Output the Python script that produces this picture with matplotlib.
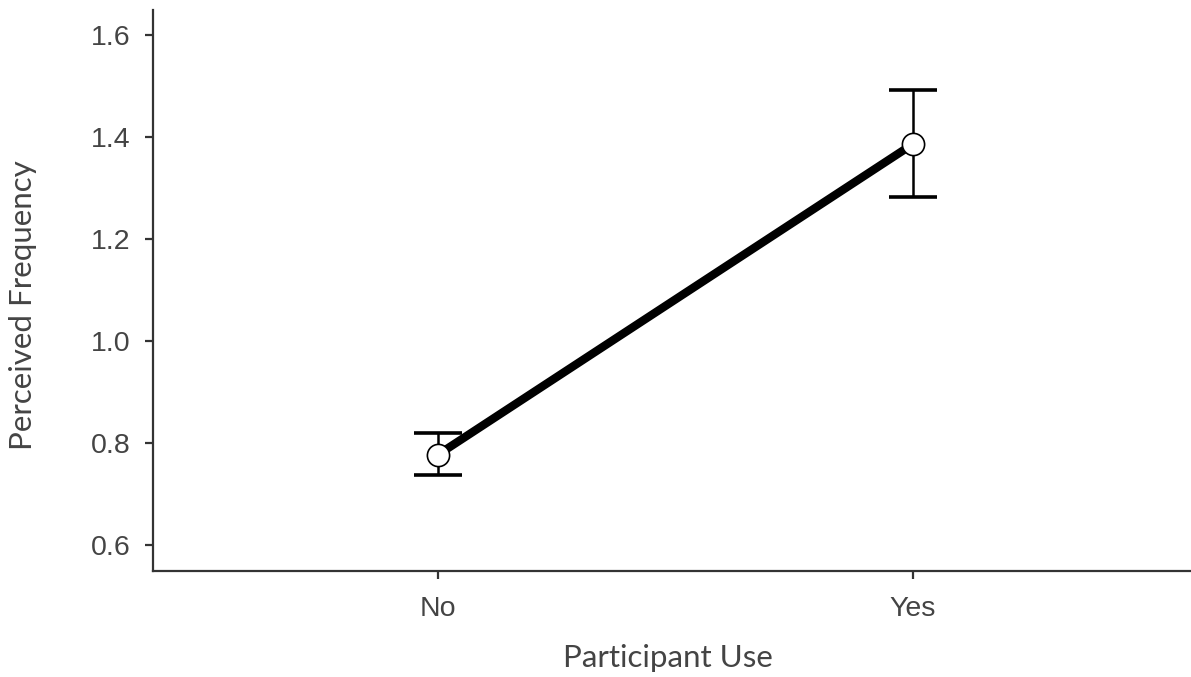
import numpy as np
import matplotlib
matplotlib.use('Agg')
import matplotlib.pyplot as plt

categories = ['No', 'Yes']
means = [0.777, 1.386]
upper = [0.820, 1.492]
lower = [0.737, 1.282]
y_ticks = [0.6, 0.8, 1.0, 1.2, 1.4, 1.6]


def main():
    fig = plt.figure(figsize=(11.91, 6.77), dpi=100)
    ax = fig.add_axes([0.1285, 0.1566, 0.8715, 0.829])

    x = np.arange(len(categories))
    m = np.array(means)
    yerr = [m - np.array(lower), np.array(upper) - m]

    ax.plot(x, m, color='black', lw=6, solid_capstyle='butt', zorder=2)
    ax.errorbar(x, m, yerr=yerr, fmt='none', ecolor='black', elinewidth=1.8,
                capsize=17, capthick=2.6, zorder=3)
    ax.plot(x, m, 'o', ms=16, mfc='white', mec='black', mew=1.2, zorder=4)

    ax.set_xlim(-0.6, 1.585)
    ax.set_ylim(0.549, 1.649)
    ax.set_xticks(x)
    ax.set_xticklabels(categories)
    ax.set_yticks(y_ticks)
    ax.set_yticklabels([f'{v:.1f}' for v in y_ticks])

    for s in ['top', 'right']:
        ax.spines[s].set_visible(False)
    for s in ['left', 'bottom']:
        ax.spines[s].set_color('#333333')
        ax.spines[s].set_linewidth(1.6)

    ax.tick_params(axis='both', length=6, width=1.6, color='#333333',
                   labelcolor='#444444', labelsize=20.5)
    ax.tick_params(axis='y', pad=10)
    ax.tick_params(axis='x', pad=12)
    for lbl in ax.get_xticklabels() + ax.get_yticklabels():
        lbl.set_family('Liberation Sans')

    fig.text(0.561, 0.0148, 'Participant Use', ha='center', va='baseline',
             fontsize=22.5, family='Lato', color='#444444')
    fig.text(0.019, 0.55, 'Perceived Frequency', ha='center', va='center',
             rotation=90, fontsize=22.5, family='Lato', color='#444444')

    fig.savefig('out.png', dpi=100)


if __name__ == '__main__':
    main()
